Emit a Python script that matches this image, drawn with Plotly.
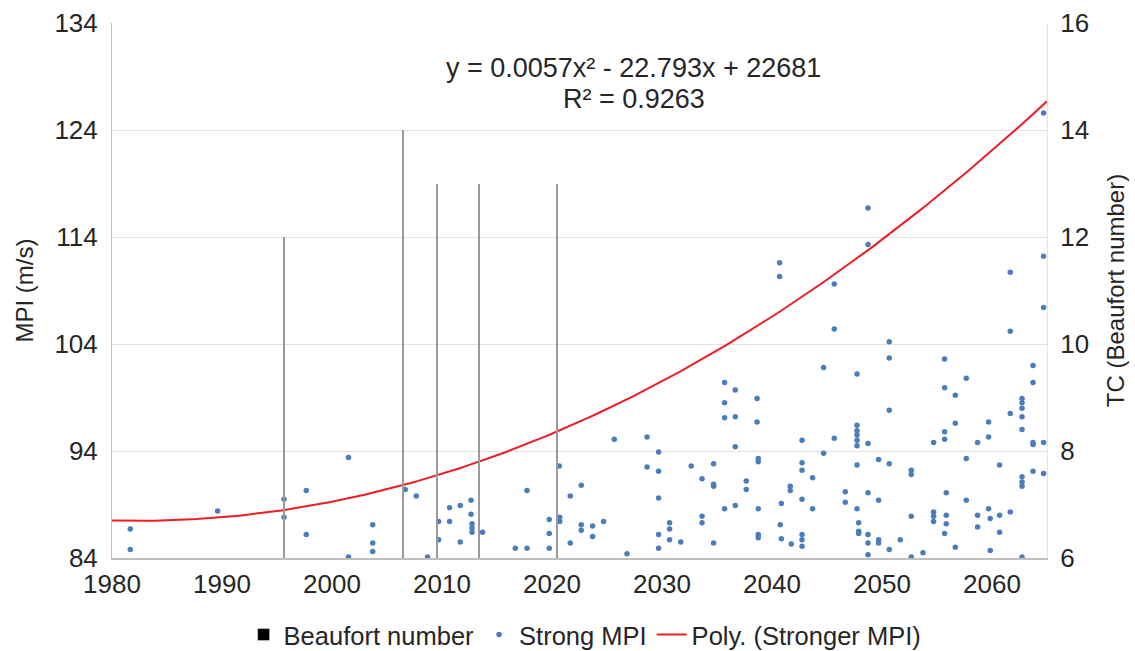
import numpy as np
import plotly.graph_objects as go

# ---------------- data ----------------
# Beaufort number bars (right axis)
beaufort_years = [1995.64, 2006.45, 2009.55, 2013.33, 2020.45]
beaufort_values = [12, 14, 13, 13, 13]

# Strong MPI scatter (left axis): (year, list of MPI values)
mpi_groups = [
    (1981.66, [86.7, 84.8]),
    (1989.60, [88.4]),
    (1995.64, [89.5, 87.8]),
    (1997.66, [90.3, 86.2]),
    (2001.50, [93.4, 84.1]),
    (2003.70, [87.1, 85.4, 84.6]),
    (2006.66, [90.4]),
    (2007.66, [89.8]),
    (2008.69, [84.1]),
    (2009.69, [87.4, 85.7]),
    (2010.69, [88.7, 87.4]),
    (2011.66, [88.9, 85.5]),
    (2012.64, [89.4, 88.1]),
    (2012.73, [87.2, 86.8, 86.4]),
    (2013.69, [86.4]),
    (2016.66, [84.9]),
    (2017.73, [84.9, 90.3]),
    (2019.75, [87.6, 86.3, 84.9]),
    (2020.66, [92.6]),
    (2020.70, [87.8, 87.4]),
    (2021.66, [89.8, 85.4]),
    (2022.66, [90.8, 87.1, 86.6]),
    (2023.69, [87.0, 86.0]),
    (2024.69, [87.4]),
    (2025.66, [95.1]),
    (2026.82, [84.4]),
    (2028.64, [95.3, 92.5]),
    (2029.69, [93.9, 92.1, 89.6, 86.2, 84.9]),
    (2030.69, [87.3, 86.7, 85.7]),
    (2031.70, [85.5]),
    (2032.66, [92.6]),
    (2033.64, [91.4, 87.9, 87.3]),
    (2034.69, [92.8, 90.9, 90.7, 85.4]),
    (2035.69, [100.4, 98.5, 97.1, 88.6]),
    (2036.66, [99.7, 97.2, 94.4, 88.9]),
    (2037.66, [91.2, 90.4]),
    (2038.64, [98.9, 96.7]),
    (2038.75, [93.3, 93.0, 88.6, 86.2, 85.9]),
    (2040.69, [111.6, 110.3]),
    (2040.75, [87.1]),
    (2040.85, [89.1, 85.8]),
    (2041.66, [90.7, 90.3]),
    (2041.75, [85.3]),
    (2042.73, [95.0, 92.9, 92.2, 89.5, 86.2, 85.7, 85.1]),
    (2043.69, [91.5, 88.6]),
    (2044.69, [101.8, 93.8]),
    (2045.66, [109.6, 105.4, 95.2]),
    (2046.66, [90.2, 89.2]),
    (2047.73, [101.2, 96.4, 95.9, 95.5, 95.0, 94.5, 92.7, 88.6]),
    (2047.88, [87.3, 86.5, 86.3]),
    (2048.73, [116.7, 113.3, 94.7, 90.1, 86.2, 85.4, 84.3]),
    (2049.69, [93.2, 89.4, 85.7, 85.4]),
    (2050.66, [104.2, 102.7, 97.8, 92.8, 84.8]),
    (2051.66, [85.7]),
    (2052.66, [92.2, 91.8, 87.9, 84.1]),
    (2053.73, [84.5]),
    (2054.69, [94.8, 88.3, 87.9, 87.4]),
    (2055.69, [102.6, 99.9, 95.8, 95.1, 86.3]),
    (2055.84, [90.1, 88.0, 87.2]),
    (2056.66, [99.2, 96.6, 85.0]),
    (2057.66, [100.8, 93.3, 89.4]),
    (2058.69, [94.8, 88.0, 86.9]),
    (2059.69, [96.7, 95.3, 88.6]),
    (2059.84, [87.7, 84.7]),
    (2060.69, [92.7, 88.0, 86.4]),
    (2061.66, [110.7, 105.2, 97.5, 88.3]),
    (2062.73, [98.9, 98.5, 98.0, 97.2, 96.0, 91.6, 91.1, 90.7, 84.1]),
    (2063.73, [102.0, 100.4, 94.8, 94.6, 92.1]),
    (2064.69, [125.6, 112.2, 107.4, 94.8, 91.9]),
]
mpi_years = [yr for yr, vals in mpi_groups for _ in vals]
mpi_values = [v for yr, vals in mpi_groups for v in vals]

# Polynomial trendline (Stronger MPI), coefficients in (year - 1980)
trend_origin = 1980
trend_coefs = [0.005734, -0.0264, 87.5]
trend_start, trend_end = 1980, 2065

x_ticks = [1980, 1990, 2000, 2010, 2020, 2030, 2040, 2050, 2060]
y_ticks = [84, 94, 104, 114, 124, 134]
y2_ticks = [6, 8, 10, 12, 14, 16]

equation_line = "y = 0.0057x² - 22.793x + 22681"
r2_line = "R² = 0.9263"

# ---------------- figure ----------------
FONT = "Liberation Sans, Arial, sans-serif"
TXT = "#262626"

tx = np.linspace(trend_start, trend_end, 200)
ty = np.polyval(trend_coefs, tx - trend_origin)

fig = go.Figure()

fig.add_trace(go.Bar(
    x=beaufort_years, y=beaufort_values, yaxis="y2", width=0.08,
    marker=dict(color="#9a9a9a", line=dict(width=0)), showlegend=False,
    name="Beaufort number",
))
# legend entry for the bars (black square, as in the original)
fig.add_trace(go.Bar(
    x=[None], y=[None], yaxis="y2", name="Beaufort number",
    marker=dict(color="#000000"),
))
fig.add_trace(go.Scatter(
    x=mpi_years, y=mpi_values, mode="markers", name="Strong MPI",
    marker=dict(color="#4A7EBB", size=5.5),
))
fig.add_trace(go.Scatter(
    x=tx, y=ty, mode="lines", name="Poly. (Stronger MPI)",
    line=dict(color="#EE1C25", width=2),
))

for txt, py in [(equation_line, 0.916), (r2_line, 0.858)]:
    fig.add_annotation(
        x=0.558, y=py, xref="paper", yref="paper", text=txt,
        xanchor="center", yanchor="middle",
        showarrow=False, font=dict(family=FONT, size=27, color=TXT),
    )

fig.update_layout(
    width=1135, height=651,
    margin=dict(l=112, r=88, t=23, b=93, autoexpand=False),
    paper_bgcolor="white", plot_bgcolor="white",
    font=dict(family=FONT, size=25, color=TXT),
    bargap=0,
    xaxis=dict(
        range=[1980, 2065], tickvals=x_ticks, showgrid=False, zeroline=False,
        showline=True, linecolor="#BFBFBF", linewidth=1.5, automargin=False,
        tickfont=dict(size=26), ticks="", ticklabelstandoff=2,
    ),
    yaxis=dict(
        range=[84, 134], tickvals=y_ticks, showgrid=True, gridcolor="#E3E3E3",
        gridwidth=1, zeroline=False, showline=True, linecolor="#BFBFBF",
        linewidth=1, tickfont=dict(size=26), ticklabelstandoff=8, automargin=False,
        title=dict(text="MPI (m/s)", font=dict(size=24), standoff=14),
    ),
    yaxis2=dict(
        range=[6, 16], tickvals=y2_ticks, overlaying="y", side="right",
        showgrid=False, zeroline=False, showline=True, linecolor="#E3E3E3",
        tickfont=dict(size=26), ticklabelstandoff=7, automargin=False,
        title=dict(text="TC (Beaufort number)", font=dict(size=24), standoff=19),
    ),
    legend=dict(
        orientation="h", x=0.506, xanchor="center", y=-0.10, yanchor="top",
        font=dict(size=25.5), itemwidth=30, traceorder="normal",
        bgcolor="rgba(0,0,0,0)",
    ),
)

# remove the default 8px page margin so the figure sits at the window origin
fig.write_html(
    "out.html",
    config={"displayModeBar": False},
    post_script="document.body.style.margin='0';document.body.style.overflow='hidden';",
)
